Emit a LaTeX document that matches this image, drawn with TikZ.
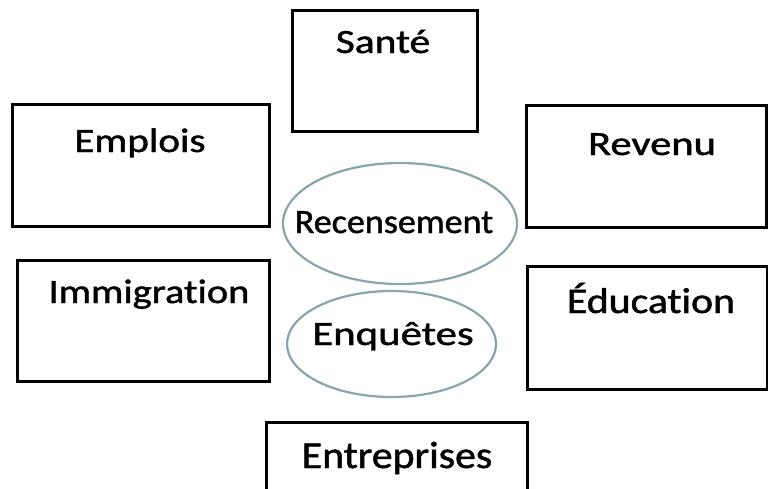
\documentclass[tikz,border=0pt]{standalone}
\usepackage{fontspec}
\setmainfont{Carlito}[Ligatures=NoCommon, FakeBold=1.2]
\usetikzlibrary{shapes.geometric}
\definecolor{ellcol}{RGB}{135,165,170}
\tikzset{
  box/.style={draw=black, line width=3pt, rectangle, inner sep=0pt},
  oval/.style={draw=ellcol, line width=2.2pt, ellipse, inner sep=0pt},
  lbl/.style={anchor=base, inner sep=0pt, font=\fontsize{34}{40}\selectfont}
}
\newcommand{\sx}[2]{\scalebox{#1}[1]{#2}}
\begin{document}
\begin{tikzpicture}[x=1pt,y=-1pt]
\useasboundingbox (0,0) rectangle (768,488);
\begin{scope}
\clip (0,0) rectangle (768,488);
% boxes
\node[box, minimum width=185pt, minimum height=121pt] (sante) at (384.5,70.5) {};
\node[box, minimum width=257pt, minimum height=122pt] (emplois) at (140.5,165) {};
\node[box, minimum width=240pt, minimum height=122pt] (revenu) at (646,166) {};
\node[box, minimum width=252pt, minimum height=121pt] (immig) at (143,320.5) {};
\node[box, minimum width=240pt, minimum height=123pt] (educ) at (647,327.5) {};
\node[box, minimum width=261pt, minimum height=100pt] (entr) at (396.5,472) {};
% ellipses
\node[oval, minimum width=234pt, minimum height=121pt] (recens) at (400,223.5) {};
\node[oval, minimum width=209pt, minimum height=106pt] (enq) at (391.5,344) {};
\end{scope}
% labels
\node[lbl] (tsante) at (383,53) {\sx{1.22}{Santé}};
\node[lbl] (templois) at (140,152) {\sx{1.21}{Emplois}};
\node[lbl] (trevenu) at (652,155) {\sx{1.25}{Revenu}};
\node[lbl] (trecens) at (394,233) {\sx{1.06}{Recensement}};
\node[lbl] (timmig) at (149,303) {\sx{1.19}{Immigration}};
\node[lbl] (tenq) at (393,345) {\sx{1.26}{Enquêtes}};
\node[lbl, font=\fontsize{36}{42}\selectfont] (teduc) at (651,313) {\sx{1.16}{Éducation}};
\node[lbl, font=\fontsize{38}{44}\selectfont] (tentr) at (397,468) {\sx{1.10}{Entreprises}};
\end{tikzpicture}
\end{document}
